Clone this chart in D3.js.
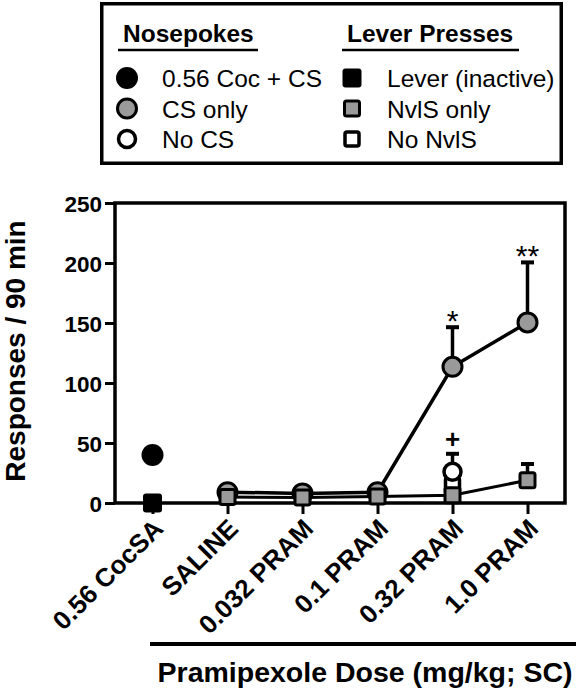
<!DOCTYPE html>
<html>
<head>
<meta charset="utf-8">
<script src="https://cdn.jsdelivr.net/npm/d3@7"></script>
<style>
  html, body { margin: 0; padding: 0; background: #fff; }
  svg { display: block; }
  text { font-family: "Liberation Sans", Arial, Helvetica, sans-serif; fill: #000; }
</style>
</head>
<body>
<svg id="chart" width="580" height="690"></svg>
<script>
// ---------- data ----------
const categories = ["0.56 CocSA", "SALINE", "0.032 PRAM", "0.1 PRAM", "0.32 PRAM", "1.0 PRAM"];
const yTicks = [0, 50, 100, 150, 200, 250];

// Nosepokes
const cocCS      = [40, null, null, null, null, null];          // 0.56 Coc + CS (black circle)
const csOnly     = [null, 9, 8, 9, 113.5, 150.5];               // CS only (grey circle)
const csOnlyErr  = [null, 0, 0, 0, 33, 50];
const noCS       = [null, null, null, null, 26, null];          // No CS (open circle)
const noCSErr    = [null, null, null, null, 15, null];

// Lever presses
const leverInact = [0, null, null, null, null, null];           // Lever (inactive) (black square)
const nvlsOnly   = [null, 5, 4.5, 5.5, 6.5, 19];                // NvlS only (grey square)
const nvlsErr    = [null, 0, 0, 0, 0, 13.5];
const noNvlS     = [null, null, null, null, 15, null];          // No NvlS (open square)

// significance marks
const sigLabels = [
  { cat: "0.32 PRAM", series: "csOnly", text: "*" },
  { cat: "1.0 PRAM",  series: "csOnly", text: "**" },
  { cat: "0.32 PRAM", series: "noCS",   text: "+" }
];

const legendNose  = ["0.56 Coc + CS", "CS only", "No CS"];
const legendLever = ["Lever (inactive)", "NvlS only", "No NvlS"];

// ---------- setup ----------
const svg = d3.select("#chart");
const GREY = "#9a9a9a";
const plot = { left: 115, right: 565, top: 203, bottom: 503 };

const x = d3.scalePoint().domain(categories).range([plot.left, plot.right]).padding(0.5);
const y = d3.scaleLinear().domain([0, 250]).range([plot.bottom, plot.top]);

const toPts = (vals, errs) => vals.map((v, i) => ({ cat: categories[i], v, e: errs ? errs[i] : null }))
                                  .filter(d => d.v !== null);

// ---------- legend ----------
const lg = svg.append("g");
lg.append("rect").attr("x", 101.75).attr("y", 3.75).attr("width", 459.5).attr("height", 159.5)
  .attr("fill", "none").attr("stroke", "#000").attr("stroke-width", 3.5);

const headers = [
  { text: "Nosepokes", x: 123, ul: [118, 258] },
  { text: "Lever Presses", x: 347, ul: [342, 519] }
];
headers.forEach(h => {
  lg.append("text").attr("x", h.x).attr("y", 42).attr("font-size", 24.5).attr("font-weight", "bold").text(h.text);
  lg.append("line").attr("x1", h.ul[0]).attr("x2", h.ul[1]).attr("y1", 50).attr("y2", 50)
    .attr("stroke", "#000").attr("stroke-width", 2.5);
});

const rowY = [78, 108.5, 139];

function circleSym(g, cx, cy, kind) {
  if (kind === 0) g.append("circle").attr("cx", cx).attr("cy", cy).attr("r", 11).attr("fill", "#000");
  if (kind === 1) g.append("circle").attr("cx", cx).attr("cy", cy).attr("r", 9.5).attr("fill", GREY).attr("stroke", "#000").attr("stroke-width", 3);
  if (kind === 2) g.append("circle").attr("cx", cx).attr("cy", cy).attr("r", 8.5).attr("fill", "#fff").attr("stroke", "#000").attr("stroke-width", 3.5);
}
function squareSym(g, cx, cy, kind) {
  if (kind === 0) g.append("rect").attr("x", cx - 9.5).attr("y", cy - 9.5).attr("width", 19).attr("height", 19).attr("rx", 3).attr("fill", "#000");
  if (kind === 1) g.append("rect").attr("x", cx - 7.5).attr("y", cy - 7.5).attr("width", 15).attr("height", 15).attr("rx", 2).attr("fill", GREY).attr("stroke", "#000").attr("stroke-width", 3);
  if (kind === 2) g.append("rect").attr("x", cx - 7).attr("y", cy - 7).attr("width", 14).attr("height", 14).attr("rx", 2).attr("fill", "#fff").attr("stroke", "#000").attr("stroke-width", 3.5);
}

legendNose.forEach((t, i) => {
  circleSym(lg, 127, rowY[i], i);
  lg.append("text").attr("x", 162).attr("y", rowY[i] + 9).attr("font-size", 24.5).text(t);
});
legendLever.forEach((t, i) => {
  squareSym(lg, 352, rowY[i], i);
  lg.append("text").attr("x", 387).attr("y", rowY[i] + 9).attr("font-size", 24.5).text(t);
});

// ---------- axes ----------
const yAxis = svg.append("g").attr("transform", `translate(${plot.left},0)`)
  .call(d3.axisLeft(y).tickValues(yTicks).tickSize(10).tickPadding(3));
yAxis.select(".domain").remove();
yAxis.selectAll(".tick line").attr("stroke", "#000").attr("stroke-width", 3);
yAxis.selectAll(".tick text").attr("font-size", 22.5).attr("font-weight", "bold")
  .attr("font-family", "Liberation Sans, Arial, sans-serif").attr("dy", "0.36em");

const xAxis = svg.append("g").attr("transform", `translate(0,${plot.bottom})`)
  .call(d3.axisBottom(x).tickSize(11).tickFormat(""));
xAxis.select(".domain").remove();
xAxis.selectAll(".tick line").attr("stroke", "#000").attr("stroke-width", 3);

// frame
svg.append("rect").attr("x", plot.left).attr("y", plot.top)
  .attr("width", plot.right - plot.left).attr("height", plot.bottom - plot.top)
  .attr("fill", "none").attr("stroke", "#000").attr("stroke-width", 3.5);

// x tick labels (rotated)
svg.append("g").selectAll("text").data(categories).join("text")
  .attr("transform", d => `translate(${x(d) - 1},${plot.bottom + 14}) rotate(-45)`)
  .attr("text-anchor", "end").attr("dy", "0.72em")
  .attr("font-size", 26).attr("font-weight", "bold").text(d => d);

// axis titles
svg.append("text").attr("transform", `translate(24.5,351) rotate(-90)`)
  .attr("text-anchor", "middle").attr("font-size", 28).attr("font-weight", "bold").text("Responses / 90 min");

svg.append("line").attr("x1", 150).attr("x2", 576).attr("y1", 644).attr("y2", 644)
  .attr("stroke", "#000").attr("stroke-width", 4);
svg.append("text").attr("x", 365).attr("y", 682).attr("text-anchor", "middle")
  .attr("font-size", 28.5).attr("font-weight", "bold").text("Pramipexole Dose (mg/kg; SC)");

// ---------- data marks ----------
const csPts = toPts(csOnly, csOnlyErr);
const noCSPts = toPts(noCS, noCSErr);
const nvPts = toPts(nvlsOnly, nvlsErr);
const noNvPts = toPts(noNvlS);
const cocPts = toPts(cocCS);
const levPts = toPts(leverInact);

const line = d3.line().x(d => x(d.cat)).y(d => y(d.v));
const marks = svg.append("g");

// error bars (upward only)
function errBars(pts) {
  pts.filter(d => d.e).forEach(d => {
    const cx = x(d.cat), top = y(d.v + d.e);
    marks.append("line").attr("x1", cx).attr("x2", cx).attr("y1", y(d.v)).attr("y2", top)
      .attr("stroke", "#000").attr("stroke-width", 3.5);
    marks.append("line").attr("x1", cx - 6.5).attr("x2", cx + 6.5).attr("y1", top).attr("y2", top)
      .attr("stroke", "#000").attr("stroke-width", 4);
  });
}
errBars(csPts); errBars(noCSPts); errBars(nvPts);

marks.append("path").datum(csPts).attr("d", line).attr("fill", "none").attr("stroke", "#000").attr("stroke-width", 3.5);
marks.append("path").datum(nvPts).attr("d", line).attr("fill", "none").attr("stroke", "#000").attr("stroke-width", 3);

noNvPts.forEach(d => squareSym(marks, x(d.cat), y(d.v), 2));
csPts.forEach(d => circleSym(marks, x(d.cat), y(d.v), 1));
noCSPts.forEach(d => circleSym(marks, x(d.cat), y(d.v), 2));
cocPts.forEach(d => circleSym(marks, x(d.cat), y(d.v), 0));
nvPts.forEach(d => squareSym(marks, x(d.cat), y(d.v), 1));
levPts.forEach(d => squareSym(marks, x(d.cat), y(d.v), 0));

// significance labels
const seriesMap = { csOnly: csPts, noCS: noCSPts };
sigLabels.forEach(s => {
  const p = seriesMap[s.series].find(d => d.cat === s.cat);
  const top = y(p.v + p.e);
  const isPlus = s.text === "+";
  svg.append("text").attr("x", x(s.cat)).attr("y", isPlus ? top - 6 : top + 4)
    .attr("text-anchor", "middle")
    .attr("font-size", isPlus ? 26 : 30).attr("font-weight", isPlus ? "bold" : "normal")
    .text(s.text);
});
</script>
</body>
</html>
